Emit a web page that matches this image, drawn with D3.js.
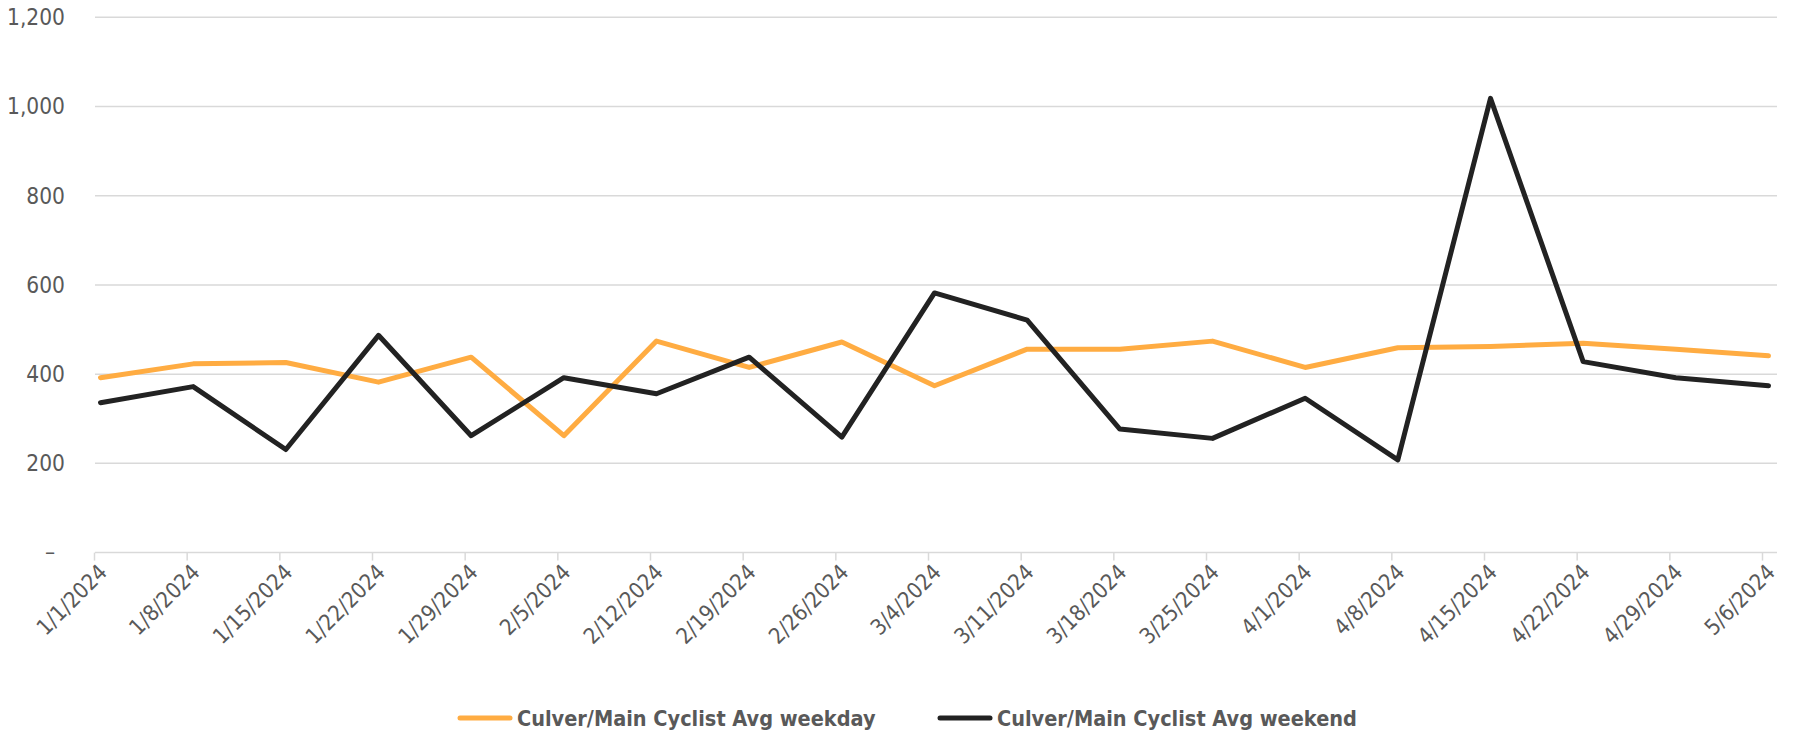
<!DOCTYPE html>
<html>
<head>
<meta charset="utf-8">
<script src="https://cdn.jsdelivr.net/npm/d3@7"></script>
<style>
  html, body { margin: 0; padding: 0; background: #fff; }
  svg { display: block; }
  .lbl { font-family: "Liberation Sans Narrow", "DejaVu Sans Condensed", "Liberation Sans", sans-serif; fill: #595959; }
</style>
</head>
<body>
<svg id="chart" width="1794" height="733"></svg>
<script>
const categories = ["1/1/2024","1/8/2024","1/15/2024","1/22/2024","1/29/2024","2/5/2024","2/12/2024","2/19/2024","2/26/2024","3/4/2024","3/11/2024","3/18/2024","3/25/2024","4/1/2024","4/8/2024","4/15/2024","4/22/2024","4/29/2024","5/6/2024"];
const weekday = [392,423,426,382,438,262,474,415,472,374,456,456,474,415,459,462,469,456,441];
const weekend = [336,372,231,487,262,392,356,438,259,582,521,277,256,346,208,1018,428,392,374];
const yTicks = [0,200,400,600,800,1000,1200];
const seriesNames = ["Culver/Main Cyclist Avg weekday","Culver/Main Cyclist Avg weekend"];
const seriesColors = ["#FFAC42","#222222"];

const svg = d3.select("#chart");
const plotLeft = 95, plotRight = 1777;
const y = d3.scaleLinear().domain([0,1200]).range([552.6,17.2]);
const x = d3.scalePoint().domain(categories).range([100.5,1768.5]);
const tickOffset = -6;

// gridlines
svg.append("g").selectAll("line").data(yTicks.filter(d => d > 0)).join("line")
  .attr("x1", plotLeft).attr("x2", plotRight)
  .attr("y1", d => y(d)).attr("y2", d => y(d))
  .attr("stroke", "#D9D9D9").attr("stroke-width", 1.5);

// y labels
const fmt = d => d === 0 ? "–" : d3.format(",")(d);
svg.append("g").selectAll("text").data(yTicks).join("text")
  .attr("class", "lbl")
  .attr("x", d => d === 0 ? 55 : 65)
  .attr("y", d => y(d))
  .attr("dy", "0.35em")
  .attr("text-anchor", "end")
  .attr("font-size", 22.5)
  .text(fmt);

// x axis line
svg.append("line")
  .attr("x1", plotLeft).attr("x2", plotRight)
  .attr("y1", y(0)).attr("y2", y(0))
  .attr("stroke", "#D9D9D9").attr("stroke-width", 1.5);

// x ticks
svg.append("g").selectAll("line").data(categories).join("line")
  .attr("x1", d => x(d) + tickOffset).attr("x2", d => x(d) + tickOffset)
  .attr("y1", y(0)).attr("y2", y(0) + 8)
  .attr("stroke", "#D9D9D9").attr("stroke-width", 1.5);

// x labels
svg.append("g").selectAll("text").data(categories).join("text")
  .attr("class", "lbl")
  .attr("font-size", 22)
  .attr("text-anchor", "end")
  .attr("transform", d => `translate(${x(d) + 8},${y(0) + 21}) rotate(-45)`)
  .text(d => d);

// lines
const line = d3.line().x((d,i) => x(categories[i])).y(d => y(d)).curve(d3.curveLinear);
[weekday, weekend].forEach((s, k) => {
  svg.append("path").datum(s)
    .attr("d", line)
    .attr("fill", "none")
    .attr("stroke", seriesColors[k])
    .attr("stroke-width", 5)
    .attr("stroke-linejoin", "round")
    .attr("stroke-linecap", "round");
});

// legend
const legend = svg.append("g");
const legendItems = [{x: 460, name: seriesNames[0], color: seriesColors[0]}, {x: 940, name: seriesNames[1], color: seriesColors[1]}];
const ly = 718;
legendItems.forEach(it => {
  legend.append("line")
    .attr("x1", it.x).attr("x2", it.x + 50)
    .attr("y1", ly).attr("y2", ly)
    .attr("stroke", it.color).attr("stroke-width", 5).attr("stroke-linecap", "round");
  legend.append("text")
    .attr("class", "lbl")
    .attr("x", it.x + 57).attr("y", ly)
    .attr("dy", "0.35em")
    .attr("font-size", 21.5)
    .attr("font-weight", "bold")
    .text(it.name);
});
</script>
</body>
</html>
